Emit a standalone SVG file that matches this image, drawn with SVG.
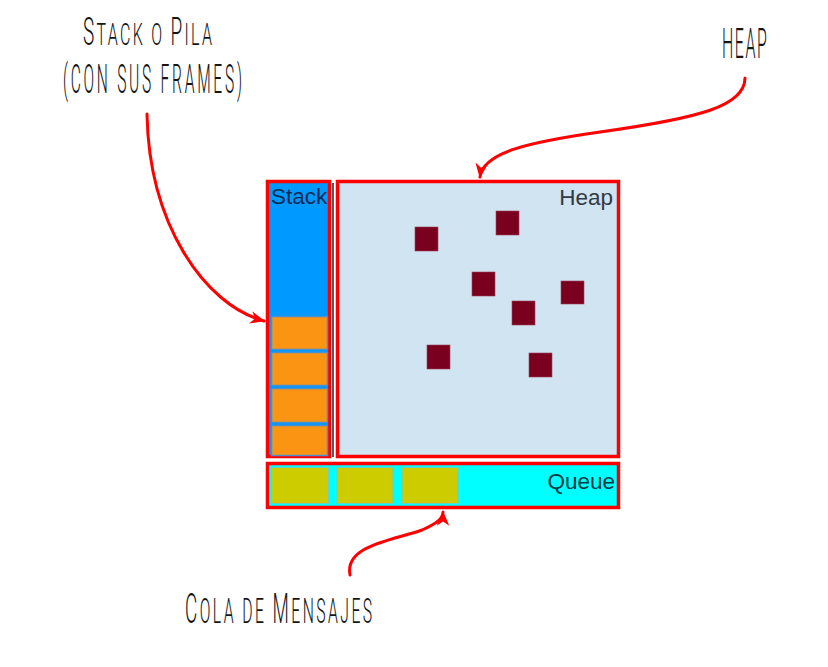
<svg xmlns="http://www.w3.org/2000/svg" width="828" height="667" viewBox="0 0 828 667">
<style>
.hand{font-family:Roboto,"Liberation Sans Narrow","DejaVu Sans",sans-serif;font-weight:300;fill:#151515;}
.box{stroke:#ff0000;stroke-width:3.5;}
.lbl{font-family:"Liberation Sans",Arial,sans-serif;font-size:22.5px;}
.obj{fill:#7a0020;stroke:#9a4050;stroke-width:0.6;}
.frame{fill:#fb9412;stroke:#4a90d0;stroke-width:1.5;}
.msg{fill:#cccc00;stroke:#6ad0c0;stroke-width:1;}
.arrow{fill:none;stroke:#ff0000;stroke-width:3;stroke-linecap:round;}
</style>
<defs>
<marker id="ah" viewBox="0 0 12 10" refX="11" refY="5" markerWidth="5" markerHeight="5" markerUnits="strokeWidth" orient="auto">
<path d="M0,0 L12,5 L0,10 L3.5,5 z" fill="#ff0000"/>
</marker>
</defs>
<rect width="828" height="667" fill="#ffffff"/>

<g id="stack">
<rect x="267.5" y="181.5" width="62" height="275" fill="#0099ff" class="box"/>
<text x="271" y="204" class="lbl" fill="#0a2a55">Stack</text>
<rect class="frame" x="271.5" y="316.5" width="56" height="33"/>
<rect class="frame" x="271.5" y="352.5" width="56" height="33"/>
<rect class="frame" x="271.5" y="388.5" width="56" height="34"/>
<rect class="frame" x="271.5" y="425.5" width="56" height="30"/>
</g>

<g id="divider">
<line x1="333" y1="183" x2="333" y2="457" stroke="#505a66" stroke-width="2"/>
</g>

<g id="heap">
<rect x="337.5" y="181.5" width="281" height="275" fill="#d0e4f2" class="box"/>
<text x="613" y="205" class="lbl" fill="#333a44" text-anchor="end">Heap</text>
<rect class="obj" x="415" y="227" width="23" height="24"/>
<rect class="obj" x="496" y="211" width="23" height="24"/>
<rect class="obj" x="472" y="272" width="23" height="24"/>
<rect class="obj" x="561" y="281" width="23" height="23"/>
<rect class="obj" x="512" y="301" width="23" height="24"/>
<rect class="obj" x="427" y="345" width="23" height="24"/>
<rect class="obj" x="529" y="353" width="23" height="24"/>
</g>

<g id="queue">
<rect x="267.5" y="463.5" width="351" height="44" fill="#00ffff" class="box"/>
<rect class="msg" x="271.5" y="467.5" width="57" height="36"/>
<rect class="msg" x="337" y="467.5" width="56" height="36"/>
<rect class="msg" x="402" y="467.5" width="56" height="36"/>
<text x="615" y="489" class="lbl" fill="#003a44" text-anchor="end" font-size="23">Queue</text>
</g>

<g id="label-stack">
<g transform="translate(83,45) scale(0.5,1)">
<text class="hand" x="0" y="0" textLength="258" lengthAdjust="spacing"><tspan font-size="38">S</tspan><tspan font-size="32">TACK O </tspan><tspan font-size="38">P</tspan><tspan font-size="32">ILA</tspan></text>
</g>
<g transform="translate(63,93) scale(0.38,1)">
<text class="hand" x="0" y="0" font-size="41" textLength="471" lengthAdjust="spacing">(CON SUS FRAMES)</text>
</g>
</g>

<g id="label-heap">
<g transform="translate(722,58) scale(0.38,1)">
<text class="hand" x="0" y="0" font-size="42" textLength="118" lengthAdjust="spacing">HEAP</text>
</g>
</g>

<g id="label-queue">
<g transform="translate(185,623) scale(0.45,1)">
<text class="hand" x="0" y="0" textLength="416" lengthAdjust="spacing"><tspan font-size="42">C</tspan><tspan font-size="35">OLA DE </tspan><tspan font-size="42">M</tspan><tspan font-size="35">ENSAJES</tspan></text>
</g>
</g>

<g id="connectors">
<path class="arrow" d="M147,114 C149,225 205,305 264,321" marker-end="url(#ah)"/>
<path class="arrow" d="M745,78 C745,106 700,118 600,132 C530,142 483,152 480,177" marker-end="url(#ah)"/>
<path class="arrow" d="M350,575 C344,545 395,540 422,530 C438,523 443,518 443,512" marker-end="url(#ah)"/>
</g>
</svg>
